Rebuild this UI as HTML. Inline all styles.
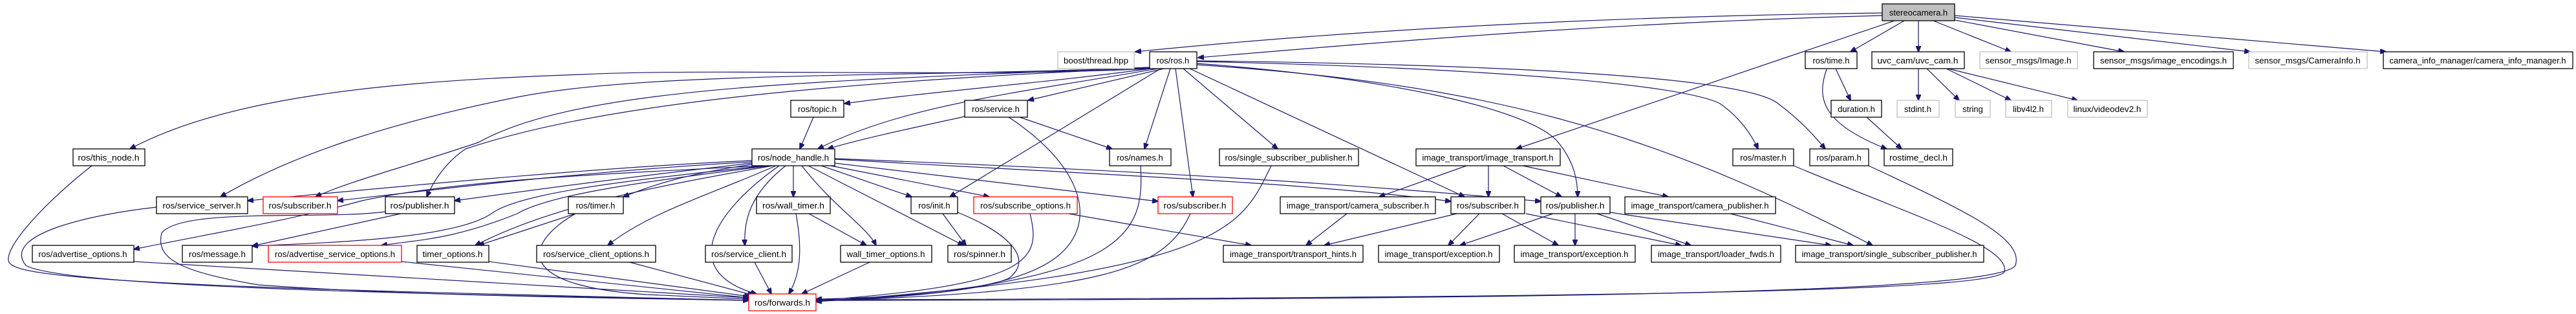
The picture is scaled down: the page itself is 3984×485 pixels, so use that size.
<!DOCTYPE html>
<html><head><meta charset="utf-8"><style>
html,body{margin:0;padding:0;background:#fff;}
svg{display:block;}
text{font-family:"Liberation Sans",sans-serif;font-size:13px;fill:#000;}
.e{fill:none;stroke:#191970;stroke-width:1.2;}
.n rect{fill:#fff;stroke:#000;stroke-width:1.3;}
.g rect{fill:#fff;stroke:#bfbfbf;stroke-width:1.3;}
.r rect{fill:#fff;stroke:#ff0000;stroke-width:1.3;}
</style></head><body>
<svg width="3984" height="485" viewBox="0 0 3984 485" xmlns="http://www.w3.org/2000/svg">
<defs><marker id="a" markerWidth="10" markerHeight="8" refX="9" refY="4" orient="auto" markerUnits="userSpaceOnUse"><path d="M0,0 L10,4 L0,8 z" fill="#191970" stroke="#191970"/></marker></defs>
<g class="e" marker-end="url(#a)">
<path d="M2911,20 C2500,25 2100,45 1756,80"/>
<path d="M2911,24 C2500,35 2200,60 1853,89"/>
<path d="M2930,32 L2345,230"/>
<path d="M2945,32 L2862,80"/>
<path d="M2967,32 L2967,80"/>
<path d="M2990,32 L3110,80"/>
<path d="M3018,30 L3285,80"/>
<path d="M3023,27 L3480,80"/>
<path d="M3023,24 L3690,80"/>
<path d="M1778,106 C1500,120 1100,105 900,115 C600,125 350,150 201,230"/>
<path d="M1778,104 C1400,120 1000,110 800,150 C600,190 450,240 341,304"/>
<path d="M1778,104 C1300,125 900,130 740,220 C620,260 540,280 488,304"/>
<path d="M1778,105 C1200,130 900,170 720,230 C690,250 670,280 660,304"/>
<path d="M1780,106 C1600,130 1450,140 1306,160"/>
<path d="M1800,106 L1590,155"/>
<path d="M1790,106 C1600,140 1400,160 1265,230"/>
<path d="M1795,106 L1469,304"/>
<path d="M1810,106 L1770,230"/>
<path d="M1818,106 L1845,304"/>
<path d="M1830,106 L1976,230"/>
<path d="M1840,106 L2265,304"/>
<path d="M1851,98 C2150,120 2370,170 2410,220 C2435,250 2440,280 2440,304"/>
<path d="M1851,95 C2300,105 2600,130 2660,160 C2690,180 2710,210 2719,230"/>
<path d="M1851,94 C2350,100 2700,120 2750,160 C2790,190 2810,215 2823,230"/>
<path d="M1851,100 C2300,130 2550,200 2896,379"/>
<path d="M1258,181 L1237,230"/>
<path d="M1492,180 C1400,200 1330,215 1280,230"/>
<path d="M1577,181 L1720,230"/>
<path d="M1560,181 C1680,260 1700,350 1630,400 C1560,450 1400,460 1262,464"/>
<path d="M1163,248 C900,260 600,290 383,310"/>
<path d="M1163,250 C900,265 700,290 522,310"/>
<path d="M1163,252 C1000,270 850,290 703,310"/>
<path d="M1163,254 C1050,270 1000,290 964,304"/>
<path d="M1180,256 C900,270 700,280 560,310 C450,340 330,360 207,385"/>
<path d="M1185,256 C950,280 800,300 760,330 C700,370 500,375 390,380"/>
<path d="M1190,256 C1000,280 850,300 800,330 C700,370 650,370 590,379"/>
<path d="M1195,256 C1000,290 850,320 735,379"/>
<path d="M1200,256 C1100,300 1000,330 940,379"/>
<path d="M1205,256 C1100,330 1050,420 1170,454"/>
<path d="M1215,256 C1160,300 1150,340 1152,379"/>
<path d="M1227,256 L1227,304"/>
<path d="M1240,256 C1290,320 1340,350 1355,379"/>
<path d="M1250,256 L1490,379"/>
<path d="M1270,256 L1410,304"/>
<path d="M1285,256 L1530,304"/>
<path d="M1291,252 L1791,311"/>
<path d="M1291,246 C1700,270 2000,280 2244,311"/>
<path d="M1291,245 C1800,265 2100,285 2383,311"/>
<path d="M142,256 C60,320 -10,400 20,410 C60,440 600,450 1158,464"/>
<path d="M242,320 C150,330 0,360 40,410 C100,445 700,455 1158,464"/>
<path d="M620,330 L390,380"/>
<path d="M596,327 C500,340 280,320 250,360 C240,400 280,420 400,440 C600,455 900,460 1158,464"/>
<path d="M890,330 L740,379"/>
<path d="M890,330 C820,370 780,440 1000,455 L1158,462"/>
<path d="M207,404 L1158,460"/>
<path d="M621,404 L1158,460"/>
<path d="M756,404 L1160,458"/>
<path d="M970,404 L1165,456"/>
<path d="M1231,330 C1240,380 1240,420 1220,454"/>
<path d="M1251,330 L1340,379"/>
<path d="M1167,405 L1193,454"/>
<path d="M1345,405 L1240,454"/>
<path d="M1458,330 L1494,379"/>
<path d="M1481,328 C1560,360 1600,400 1560,430 C1500,455 1350,460 1262,462"/>
<path d="M1593,330 C1610,400 1600,440 1262,464"/>
<path d="M1652,330 L1935,379"/>
<path d="M1841,330 C1800,420 1700,450 1262,465"/>
<path d="M1764,256 C1770,360 1750,440 1262,465"/>
<path d="M1966,256 C1920,350 1900,420 1262,466"/>
<path d="M2083,330 L2020,379"/>
<path d="M2268,256 L2133,304"/>
<path d="M2302,256 L2302,304"/>
<path d="M2325,256 L2415,304"/>
<path d="M2355,256 L2580,304"/>
<path d="M2253,330 L2048,379"/>
<path d="M2288,330 L2240,379"/>
<path d="M2323,330 L2410,379"/>
<path d="M2360,330 L2600,379"/>
<path d="M2402,330 L2258,379"/>
<path d="M2436,330 L2436,379"/>
<path d="M2470,330 L2615,379"/>
<path d="M2490,328 L2832,379"/>
<path d="M2676,330 L2866,379"/>
<path d="M2774,256 C2950,330 3110,380 3100,420 C3080,450 2500,460 1262,463"/>
<path d="M2890,256 C3050,330 3130,370 3117,410 C3090,450 2500,462 1262,464"/>
<path d="M2839,106 L2862,155"/>
<path d="M2825,107 C2810,150 2815,190 2918,230"/>
<path d="M2887,181 L2941,230"/>
<path d="M2967,106 L2967,155"/>
<path d="M2980,106 L3030,155"/>
<path d="M3010,106 L3110,155"/>
<path d="M3013,106 L3213,155"/>
</g>

<!-- nodes -->
<g class="n"><rect x="2911" y="6" width="112" height="26" style="fill:#bfbfbf"/><text x="2967" y="24" text-anchor="middle">stereocamera.h</text></g>
<g class="g"><rect x="1636" y="80" width="118" height="26"/><text x="1695" y="98" text-anchor="middle" textLength="100" lengthAdjust="spacingAndGlyphs">boost/thread.hpp</text></g>
<g class="n"><rect x="1778" y="80" width="73" height="26"/><text x="1814" y="98" text-anchor="middle">ros/ros.h</text></g>
<g class="n"><rect x="2792" y="80" width="80" height="26"/><text x="2832" y="98" text-anchor="middle">ros/time.h</text></g>
<g class="n"><rect x="2895" y="80" width="143" height="26"/><text x="2966" y="98" text-anchor="middle" textLength="125" lengthAdjust="spacingAndGlyphs">uvc_cam/uvc_cam.h</text></g>
<g class="g"><rect x="3062" y="80" width="151" height="26"/><text x="3137" y="98" text-anchor="middle" textLength="133" lengthAdjust="spacingAndGlyphs">sensor_msgs/Image.h</text></g>
<g class="n"><rect x="3238" y="80" width="216" height="26"/><text x="3346" y="98" text-anchor="middle" textLength="196" lengthAdjust="spacingAndGlyphs">sensor_msgs/image_encodings.h</text></g>
<g class="g"><rect x="3478" y="80" width="183" height="26"/><text x="3569" y="98" text-anchor="middle" textLength="163" lengthAdjust="spacingAndGlyphs">sensor_msgs/CameraInfo.h</text></g>
<g class="n"><rect x="3686" y="80" width="293" height="26"/><text x="3832" y="98" text-anchor="middle" textLength="273" lengthAdjust="spacingAndGlyphs">camera_info_manager/camera_info_manager.h</text></g>

<g class="n"><rect x="1223" y="155" width="82" height="26"/><text x="1264" y="173" text-anchor="middle">ros/topic.h</text></g>
<g class="n"><rect x="1492" y="155" width="97" height="26"/><text x="1540" y="173" text-anchor="middle">ros/service.h</text></g>
<g class="n"><rect x="2832" y="155" width="78" height="26"/><text x="2871" y="173" text-anchor="middle">duration.h</text></g>
<g class="g"><rect x="2934" y="155" width="65" height="26"/><text x="2966" y="173" text-anchor="middle">stdint.h</text></g>
<g class="g"><rect x="3024" y="155" width="54" height="26"/><text x="3051" y="173" text-anchor="middle">string</text></g>
<g class="g"><rect x="3102" y="155" width="71" height="26"/><text x="3137" y="173" text-anchor="middle">libv4l2.h</text></g>
<g class="g"><rect x="3198" y="155" width="123" height="26"/><text x="3259" y="173" text-anchor="middle" textLength="105" lengthAdjust="spacingAndGlyphs">linux/videodev2.h</text></g>

<g class="n"><rect x="113" y="230" width="111" height="26"/><text x="168" y="248" text-anchor="middle" textLength="95" lengthAdjust="spacingAndGlyphs">ros/this_node.h</text></g>
<g class="n"><rect x="1163" y="230" width="128" height="26"/><text x="1227" y="248" text-anchor="middle" textLength="110" lengthAdjust="spacingAndGlyphs">ros/node_handle.h</text></g>
<g class="n"><rect x="1716" y="230" width="95" height="26"/><text x="1763" y="248" text-anchor="middle">ros/names.h</text></g>
<g class="n"><rect x="1886" y="230" width="215" height="26"/><text x="1993" y="248" text-anchor="middle" textLength="197" lengthAdjust="spacingAndGlyphs">ros/single_subscriber_publisher.h</text></g>
<g class="n"><rect x="2190" y="230" width="223" height="26"/><text x="2301" y="248" text-anchor="middle" textLength="203" lengthAdjust="spacingAndGlyphs">image_transport/image_transport.h</text></g>
<g class="n"><rect x="2680" y="230" width="94" height="26"/><text x="2727" y="248" text-anchor="middle">ros/master.h</text></g>
<g class="n"><rect x="2799" y="230" width="91" height="26"/><text x="2844" y="248" text-anchor="middle">ros/param.h</text></g>
<g class="n"><rect x="2914" y="230" width="106" height="26"/><text x="2967" y="248" text-anchor="middle" textLength="90" lengthAdjust="spacingAndGlyphs">rostime_decl.h</text></g>

<g class="n"><rect x="242" y="304" width="141" height="26"/><text x="312" y="322" text-anchor="middle" textLength="121" lengthAdjust="spacingAndGlyphs">ros/service_server.h</text></g>
<g class="r"><rect x="407" y="304" width="115" height="26"/><text x="464" y="322" text-anchor="middle" textLength="97" lengthAdjust="spacingAndGlyphs">ros/subscriber.h</text></g>
<g class="n"><rect x="596" y="304" width="107" height="26"/><text x="649" y="322" text-anchor="middle" textLength="91" lengthAdjust="spacingAndGlyphs">ros/publisher.h</text></g>
<g class="n"><rect x="879" y="304" width="85" height="26"/><text x="921" y="322" text-anchor="middle">ros/timer.h</text></g>
<g class="n"><rect x="1170" y="304" width="114" height="26"/><text x="1227" y="322" text-anchor="middle" textLength="96" lengthAdjust="spacingAndGlyphs">ros/wall_timer.h</text></g>
<g class="n"><rect x="1409" y="304" width="72" height="26"/><text x="1445" y="322" text-anchor="middle">ros/init.h</text></g>
<g class="r"><rect x="1506" y="304" width="160" height="26"/><text x="1586" y="322" text-anchor="middle" textLength="140" lengthAdjust="spacingAndGlyphs">ros/subscribe_options.h</text></g>
<g class="r"><rect x="1791" y="304" width="115" height="26"/><text x="1848" y="322" text-anchor="middle" textLength="97" lengthAdjust="spacingAndGlyphs">ros/subscriber.h</text></g>
<g class="n"><rect x="1980" y="304" width="240" height="26"/><text x="2100" y="322" text-anchor="middle" textLength="220" lengthAdjust="spacingAndGlyphs">image_transport/camera_subscriber.h</text></g>
<g class="n"><rect x="2244" y="304" width="114" height="26"/><text x="2301" y="322" text-anchor="middle" textLength="96" lengthAdjust="spacingAndGlyphs">ros/subscriber.h</text></g>
<g class="n"><rect x="2383" y="304" width="107" height="26"/><text x="2436" y="322" text-anchor="middle" textLength="91" lengthAdjust="spacingAndGlyphs">ros/publisher.h</text></g>
<g class="n"><rect x="2513" y="304" width="233" height="26"/><text x="2629" y="322" text-anchor="middle" textLength="213" lengthAdjust="spacingAndGlyphs">image_transport/camera_publisher.h</text></g>

<g class="n"><rect x="50" y="379" width="157" height="26"/><text x="128" y="397" text-anchor="middle" textLength="137" lengthAdjust="spacingAndGlyphs">ros/advertise_options.h</text></g>
<g class="n"><rect x="282" y="379" width="108" height="26"/><text x="336" y="397" text-anchor="middle" textLength="88" lengthAdjust="spacingAndGlyphs">ros/message.h</text></g>
<g class="r"><rect x="415" y="379" width="206" height="26"/><text x="518" y="397" text-anchor="middle" textLength="186" lengthAdjust="spacingAndGlyphs">ros/advertise_service_options.h</text></g>
<g class="n"><rect x="645" y="379" width="111" height="26"/><text x="700" y="397" text-anchor="middle" textLength="93" lengthAdjust="spacingAndGlyphs">timer_options.h</text></g>
<g class="n"><rect x="830" y="379" width="184" height="26"/><text x="922" y="397" text-anchor="middle" textLength="164" lengthAdjust="spacingAndGlyphs">ros/service_client_options.h</text></g>
<g class="n"><rect x="1091" y="379" width="134" height="26"/><text x="1158" y="397" text-anchor="middle" textLength="116" lengthAdjust="spacingAndGlyphs">ros/service_client.h</text></g>
<g class="n"><rect x="1300" y="379" width="141" height="26"/><text x="1370" y="397" text-anchor="middle" textLength="121" lengthAdjust="spacingAndGlyphs">wall_timer_options.h</text></g>
<g class="n"><rect x="1466" y="379" width="98" height="26"/><text x="1515" y="397" text-anchor="middle" textLength="80" lengthAdjust="spacingAndGlyphs">ros/spinner.h</text></g>
<g class="n"><rect x="1892" y="379" width="216" height="26"/><text x="2000" y="397" text-anchor="middle" textLength="196" lengthAdjust="spacingAndGlyphs">image_transport/transport_hints.h</text></g>
<g class="n"><rect x="2132" y="379" width="187" height="26"/><text x="2225" y="397" text-anchor="middle" textLength="167" lengthAdjust="spacingAndGlyphs">image_transport/exception.h</text></g>
<g class="n"><rect x="2342" y="379" width="187" height="26"/><text x="2435" y="397" text-anchor="middle" textLength="167" lengthAdjust="spacingAndGlyphs">image_transport/exception.h</text></g>
<g class="n"><rect x="2554" y="379" width="200" height="26"/><text x="2654" y="397" text-anchor="middle" textLength="180" lengthAdjust="spacingAndGlyphs">image_transport/loader_fwds.h</text></g>
<g class="n"><rect x="2777" y="379" width="291" height="26"/><text x="2922" y="397" text-anchor="middle" textLength="271" lengthAdjust="spacingAndGlyphs">image_transport/single_subscriber_publisher.h</text></g>

<g class="r"><rect x="1158" y="454" width="104" height="26"/><text x="1210" y="472" text-anchor="middle" textLength="86" lengthAdjust="spacingAndGlyphs">ros/forwards.h</text></g>
</svg>
</body></html>
